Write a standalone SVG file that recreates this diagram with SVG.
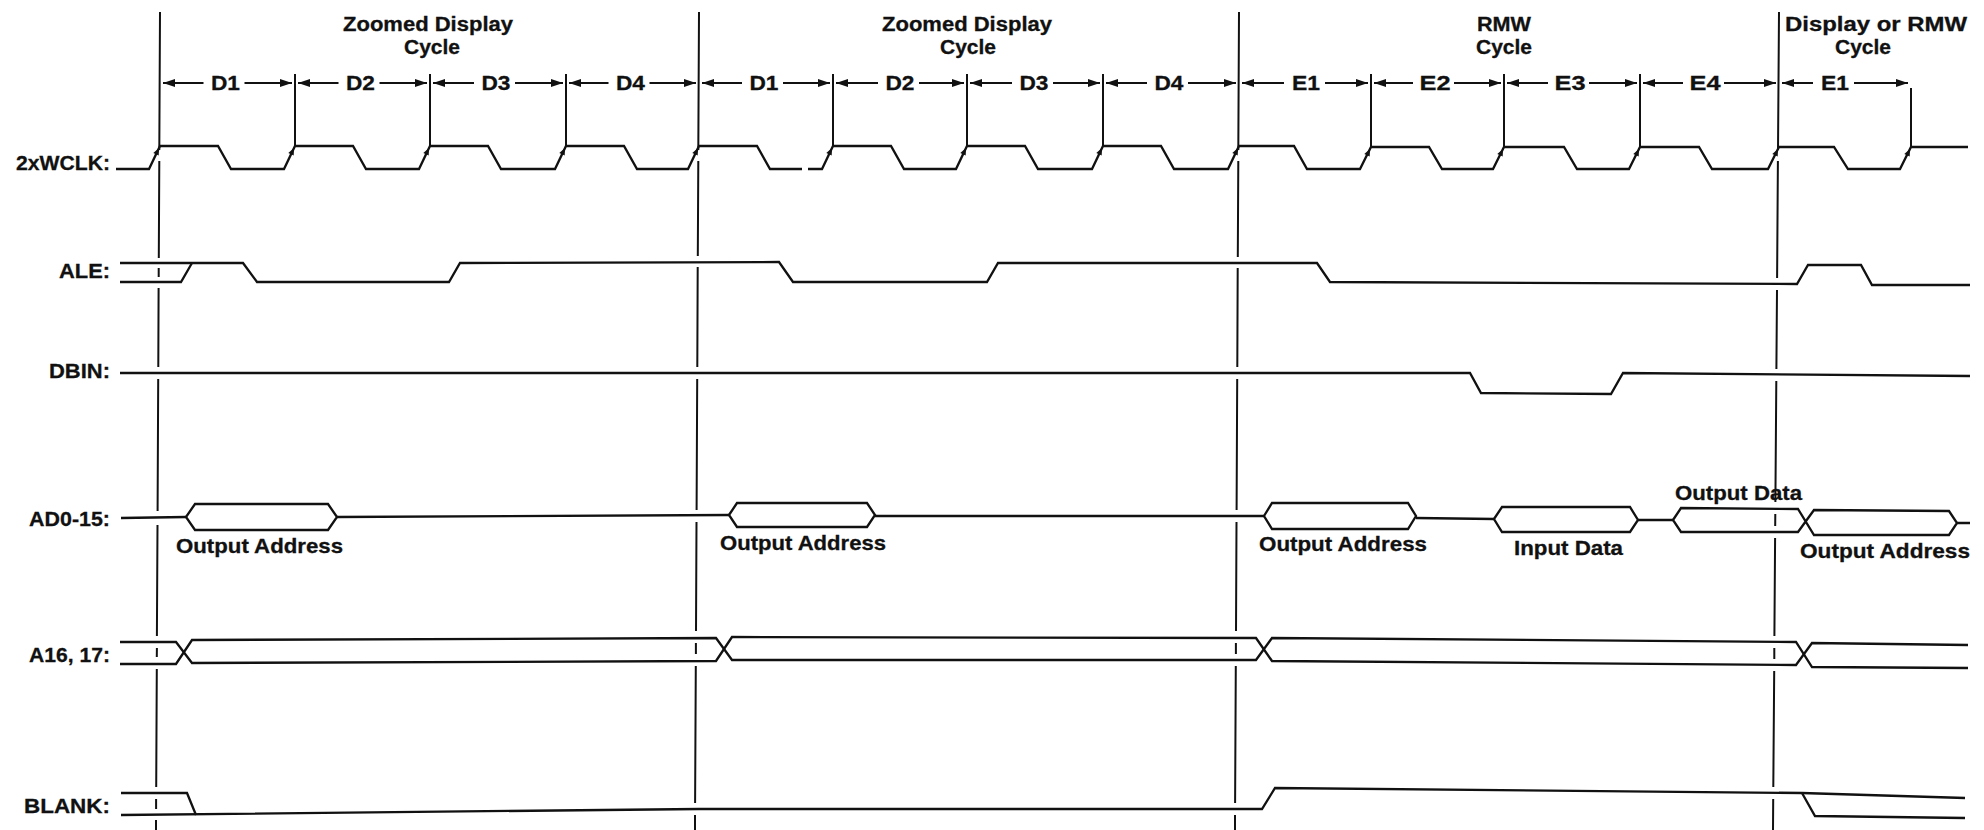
<svg xmlns="http://www.w3.org/2000/svg" xmlns:xlink="http://www.w3.org/1999/xlink" width="1984" height="830" viewBox="0 0 1984 830">
<style>
.w{fill:none;stroke:#111;stroke-width:2.3;stroke-linejoin:miter;stroke-linecap:butt}
.g{fill:none;stroke:#111;stroke-width:2}
.t{font-family:"Liberation Sans",Arial,Helvetica,sans-serif;font-weight:bold;fill:#111;stroke:#111;stroke-width:0.3}
.lbl{font-size:21px;text-anchor:end}
.ttl{font-size:20px;text-anchor:middle}
.ph{font-size:21px;text-anchor:middle}
.bus{font-size:21px}
.ck{fill:#111}
</style>
<defs>
<marker id="ah" viewBox="0 0 12 8" refX="12" refY="4" markerWidth="12" markerHeight="8" markerUnits="userSpaceOnUse" orient="auto">
<path d="M0,0 L12,4 L0,8 z" fill="#111"/>
</marker>
<path id="ckh" d="M-1,2 L-1.3,9.6 L-6.7,7 Z" class="ck"/>
</defs>
<rect width="1984" height="830" fill="#fff"/>

<g id="titles" class="t">
<text class="ttl" x="428" y="31" textLength="170" lengthAdjust="spacingAndGlyphs">Zoomed Display</text>
<text class="ttl" x="432" y="54" textLength="56" lengthAdjust="spacingAndGlyphs">Cycle</text>
<text class="ttl" x="967" y="31" textLength="170" lengthAdjust="spacingAndGlyphs">Zoomed Display</text>
<text class="ttl" x="968" y="54" textLength="56" lengthAdjust="spacingAndGlyphs">Cycle</text>
<text class="ttl" x="1504" y="31" textLength="54" lengthAdjust="spacingAndGlyphs">RMW</text>
<text class="ttl" x="1504" y="54" textLength="56" lengthAdjust="spacingAndGlyphs">Cycle</text>
<text class="ttl" x="1876" y="31" textLength="182" lengthAdjust="spacingAndGlyphs">Display or RMW</text>
<text class="ttl" x="1863" y="54" textLength="56" lengthAdjust="spacingAndGlyphs">Cycle</text>
</g>

<g id="cycle-boundaries" class="g">
<path d="M160,12 L159.3,150 M159.3,161 L158.8,258 M158.7,268 L158.7,277 M158.6,288 L158.3,367 M158.2,379 L157.6,511 M157.5,525 L156.9,636 M156.9,648 L156.8,657 M156.8,669 L156.2,787 M156.1,799 L156.1,809 M156,820 L156,830"/>
<path d="M699,12 L698.3,150 M698.3,161 L697.8,256 M697.7,267 L697.3,367 M697.2,379 L696.6,510 M696.5,522 L696,631 M695.9,643 L695.9,654 M695.8,666 L695.1,803 M695,815 L695,830"/>
<path d="M1239,12 L1238.3,150 M1238.3,161 L1237.8,257 M1237.7,268 L1237.3,367 M1237.2,379 L1236.6,510 M1236.5,522 L1236,631 M1235.9,643 L1235.9,654 M1235.8,666 L1235.1,803 M1235,815 L1235,830"/>
<path d="M1779,12 L1778,150 M1777.9,161 L1777.1,278 M1777,290 L1776.4,369 M1776.3,381 L1775.4,502 M1775.3,514 L1775.2,526 M1775.1,538 L1774.4,636 M1774.3,648 L1774.3,659 M1774.2,671 L1773.3,787 M1773.2,799 L1773,830"/>
</g>

<g id="phase-ticks" class="g">
<path d="M295,74 V146 M430,74 V146 M566,74 V146 M833,74 V146 M967,74 V146 M1103,74 V146 M1371,74 V147 M1504,74 V147 M1640,74 V147 M1911,88 V147"/>
</g>

<g id="connectors" class="g">
<line x1="203.5" y1="83" x2="163" y2="83" marker-end="url(#ah)"/><line x1="244.5" y1="83" x2="292" y2="83" marker-end="url(#ah)"/>
<line x1="338.5" y1="83" x2="298" y2="83" marker-end="url(#ah)"/><line x1="379.5" y1="83" x2="427" y2="83" marker-end="url(#ah)"/>
<line x1="474" y1="83" x2="433" y2="83" marker-end="url(#ah)"/><line x1="515" y1="83" x2="563" y2="83" marker-end="url(#ah)"/>
<line x1="608.5" y1="83" x2="569" y2="83" marker-end="url(#ah)"/><line x1="649.5" y1="83" x2="696" y2="83" marker-end="url(#ah)"/>
<line x1="742" y1="83" x2="702" y2="83" marker-end="url(#ah)"/><line x1="783" y1="83" x2="830" y2="83" marker-end="url(#ah)"/>
<line x1="878" y1="83" x2="836" y2="83" marker-end="url(#ah)"/><line x1="919" y1="83" x2="964" y2="83" marker-end="url(#ah)"/>
<line x1="1012" y1="83" x2="970" y2="83" marker-end="url(#ah)"/><line x1="1053" y1="83" x2="1100" y2="83" marker-end="url(#ah)"/>
<line x1="1147" y1="83" x2="1106" y2="83" marker-end="url(#ah)"/><line x1="1188" y1="83" x2="1236" y2="83" marker-end="url(#ah)"/>
<line x1="1284" y1="83" x2="1242" y2="83" marker-end="url(#ah)"/><line x1="1325" y1="83" x2="1368" y2="83" marker-end="url(#ah)"/>
<line x1="1413" y1="83" x2="1374" y2="83" marker-end="url(#ah)"/><line x1="1454" y1="83" x2="1501" y2="83" marker-end="url(#ah)"/>
<line x1="1548" y1="83" x2="1507" y2="83" marker-end="url(#ah)"/><line x1="1589" y1="83" x2="1637" y2="83" marker-end="url(#ah)"/>
<line x1="1683" y1="83" x2="1643" y2="83" marker-end="url(#ah)"/><line x1="1724" y1="83" x2="1776" y2="83" marker-end="url(#ah)"/>
<line x1="1813" y1="83" x2="1782" y2="83" marker-end="url(#ah)"/><line x1="1854" y1="83" x2="1908" y2="83" marker-end="url(#ah)"/>
</g>

<g id="phase-labels" class="t">
<text class="ph" x="225.5" y="90" textLength="29" lengthAdjust="spacingAndGlyphs">D1</text>
<text class="ph" x="360.5" y="90" textLength="29" lengthAdjust="spacingAndGlyphs">D2</text>
<text class="ph" x="496" y="90" textLength="29" lengthAdjust="spacingAndGlyphs">D3</text>
<text class="ph" x="630.5" y="90" textLength="29" lengthAdjust="spacingAndGlyphs">D4</text>
<text class="ph" x="764" y="90" textLength="29" lengthAdjust="spacingAndGlyphs">D1</text>
<text class="ph" x="900" y="90" textLength="29" lengthAdjust="spacingAndGlyphs">D2</text>
<text class="ph" x="1034" y="90" textLength="29" lengthAdjust="spacingAndGlyphs">D3</text>
<text class="ph" x="1169" y="90" textLength="29" lengthAdjust="spacingAndGlyphs">D4</text>
<text class="ph" x="1306" y="90" textLength="28" lengthAdjust="spacingAndGlyphs">E1</text>
<text class="ph" x="1435" y="90" textLength="31" lengthAdjust="spacingAndGlyphs">E2</text>
<text class="ph" x="1570" y="90" textLength="31" lengthAdjust="spacingAndGlyphs">E3</text>
<text class="ph" x="1705" y="90" textLength="31" lengthAdjust="spacingAndGlyphs">E4</text>
<text class="ph" x="1835" y="90" textLength="28" lengthAdjust="spacingAndGlyphs">E1</text>
</g>

<g id="sig-2xwclk">
<text class="t lbl" x="110" y="170" textLength="94" lengthAdjust="spacingAndGlyphs">2xWCLK:</text>
<path class="w" d="M116,169 L149,169 L160,146 L218,146 L231,169 L284,169 L295,146 L353,146 L366,169 L419,169 L430,146 L488,146 L501,169 L555,169 L566,146 L624,146 L637,169 L688,169 L699,146 L757,146 L770,169 L802,169 M808,169 L822,169 L833,146 L891,146 L904,169 L956,169 L967,146 L1025,146 L1038,169 L1092,169 L1103,146 L1161,146 L1174,169 L1228,169 L1239,146 L1294,146 L1307,169 L1360,169 L1371,147 L1429,147 L1442,169 L1493,169 L1504,147 L1564,147 L1577,169 L1629,169 L1640,147 L1699,147 L1712,169 L1768,169 L1779,147 L1834,147 L1848,169 L1900,169 L1911,147 L1968,147"/>
<use xlink:href="#ckh" x="160" y="146"/><use xlink:href="#ckh" x="295" y="146"/><use xlink:href="#ckh" x="430" y="146"/><use xlink:href="#ckh" x="566" y="146"/>
<use xlink:href="#ckh" x="699" y="146"/><use xlink:href="#ckh" x="833" y="146"/><use xlink:href="#ckh" x="967" y="146"/><use xlink:href="#ckh" x="1103" y="146"/>
<use xlink:href="#ckh" x="1239" y="146"/><use xlink:href="#ckh" x="1371" y="147"/><use xlink:href="#ckh" x="1504" y="147"/><use xlink:href="#ckh" x="1640" y="147"/>
<use xlink:href="#ckh" x="1779" y="147"/><use xlink:href="#ckh" x="1911" y="147"/>
</g>

<g id="sig-ale">
<text class="t lbl" x="110" y="278" textLength="51" lengthAdjust="spacingAndGlyphs">ALE:</text>
<path class="w" d="M120,263 L243,263 L257,282 L449,282 L460,263 L779,262 L793,282 L987,282 L998,263 L1317,263 L1330,282 L1797,284 L1808,265 L1861,265 L1872,285 L1970,285"/>
<path class="w" d="M120,282 L181,282 L192,263"/>
</g>

<g id="sig-dbin">
<text class="t lbl" x="110" y="378" textLength="61" lengthAdjust="spacingAndGlyphs">DBIN:</text>
<path class="w" d="M120,373 L1470,373 L1481,393 L1611,394 L1623,373 L1970,376"/>
</g>

<g id="sig-ad0-15">
<text class="t lbl" x="110" y="526" textLength="81" lengthAdjust="spacingAndGlyphs">AD0-15:</text>
<path class="w" d="M121,518 L186,517 M337,517 L729,515 M875,516 L1264,516 M1416,518 L1494,519 M1638,520 L1673,520 M1957,523 L1970,523"/>
<path class="w" d="M186,517 L195,504 L328,504 L337,517 L328,530 L195,530 Z"/>
<path class="w" d="M729,515 L737,503 L867,503 L875,515 L867,527 L737,527 Z"/>
<path class="w" d="M1264,516 L1272,503 L1408,503 L1416,516 L1408,529 L1272,529 Z"/>
<path class="w" d="M1494,519 L1502,507 L1630,507 L1638,520 L1630,532 L1502,532 Z"/>
<path class="w" d="M1673,520 L1681,508 L1798,509 L1814,535 L1949,535 L1957,523 L1949,511 L1814,510 L1798,532 L1681,532 Z"/>
<text class="t bus" x="176" y="553" textLength="167" lengthAdjust="spacingAndGlyphs">Output Address</text>
<text class="t bus" x="720" y="550" textLength="166" lengthAdjust="spacingAndGlyphs">Output Address</text>
<text class="t bus" x="1259" y="551" textLength="168" lengthAdjust="spacingAndGlyphs">Output Address</text>
<text class="t bus" x="1514" y="555" textLength="109" lengthAdjust="spacingAndGlyphs">Input Data</text>
<text class="t bus" x="1675" y="500" textLength="127" lengthAdjust="spacingAndGlyphs">Output Data</text>
<text class="t bus" x="1800" y="558" textLength="170" lengthAdjust="spacingAndGlyphs">Output Address</text>
</g>

<g id="sig-a16-17">
<text class="t lbl" x="110" y="662" textLength="81" lengthAdjust="spacingAndGlyphs">A16, 17:</text>
<path class="w" d="M120,642 L176,642 L192,663 L716,661 L732,637 L1256,638 L1272,661 L1796,665 L1812,643 L1968,645"/>
<path class="w" d="M120,664 L176,664 L192,640 L716,638 L732,660 L1256,660 L1272,638 L1796,642 L1812,667 L1968,668"/>
</g>

<g id="sig-blank">
<text class="t lbl" x="110" y="813" textLength="86" lengthAdjust="spacingAndGlyphs">BLANK:</text>
<path class="w" d="M121,793 L187,793 L196,815"/>
<path class="w" d="M121,815 L699,809 L1262,809 L1275,788 L1802,793 L1965,798"/>
<path class="w" d="M1802,793 L1815,816 L1965,818"/>
</g>
</svg>
